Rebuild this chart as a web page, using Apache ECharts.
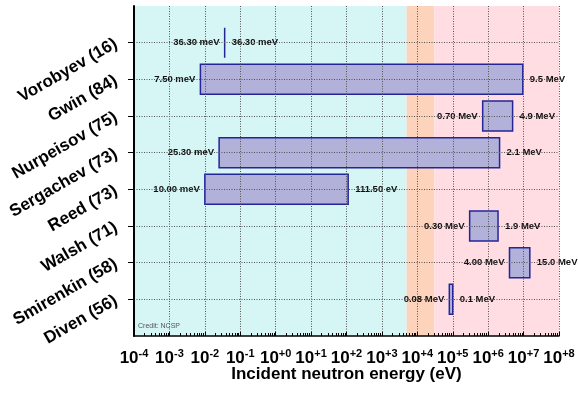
<!DOCTYPE html>
<html><head><meta charset="utf-8">
<script src="https://cdn.jsdelivr.net/npm/echarts@6/dist/echarts.min.js"></script>
<style>html,body{margin:0;padding:0;background:#fff}#c{width:578px;height:394px}</style>
</head><body><div id="c"></div>
<script>
// ---- data ----
const experiments = ['Vorobyev (16)', 'Gwin (84)', 'Nurpeisov (75)', 'Sergachev (73)', 'Reed (73)', 'Walsh (71)', 'Smirenkin (58)', 'Diven (56)'];
const energyLow  = [0.0363, 0.0075, 0.70e6, 0.0253, 0.010, 0.30e6, 4.00e6, 0.08e6];
const energyHigh = [0.0363, 9.5e6, 4.9e6, 2.1e6, 111.5, 1.9e6, 15.0e6, 0.1e6];
const lowLabels  = ['36.30 meV', '7.50 meV', '0.70 MeV', '25.30 meV', '10.00 meV', '0.30 MeV', '4.00 MeV', '0.08 MeV'];
const highLabels = ['36.30 meV', '9.5 MeV', '4.9 MeV', '2.1 MeV', '111.50 eV', '1.9 MeV', '15.0 MeV', '0.1 MeV'];
const regionStart = [1e-4, 5e3, 3e4];
const regionEnd   = [5e3, 3e4, 1e8];
const regionColors = ['#d6f5f5', '#fdd3bb', '#ffdde3'];
const xMin = 1e-4, xMax = 1e8;

const FONT = '"Liberation Sans", Arial, Helvetica, sans-serif';
const yCats = [''].concat(experiments, ['']);

const barData = experiments.map((n, i) => [energyLow[i], energyHigh[i], i + 1]);
const bgData = regionStart.map((s, i) => [s, regionEnd[i], 0]);

const chart = echarts.init(document.getElementById('c'), null, {renderer: 'canvas'});
chart.setOption({
  animation: false,
  backgroundColor: '#fff',
  grid: {left: 134, right: 19, top: 6, bottom: 58},
  xAxis: {
    type: 'log', logBase: 10, min: xMin, max: xMax, interval: 1,
    z: 5,
    name: 'Incident neutron energy (eV)', nameLocation: 'middle', nameGap: 30, nameMoveOverlap: false,
    nameTextStyle: {fontFamily: FONT, fontWeight: 'bold', fontSize: 17, color: '#000'},
    axisLine: {show: true, onZero: false, lineStyle: {color: '#000', width: 1.5}},
    axisTick: {show: true, inside: true, length: 4, lineStyle: {color: '#000'}},
    minorTick: {show: true, splitNumber: 9, length: 3, lineStyle: {color: '#000'}},
    splitLine: {show: true, lineStyle: {color: '#555', type: [1, 1.5], width: 1}},
    axisLabel: {
      margin: 12, interval: 0,
      formatter: function (v) {
        const e = Math.round(Math.log10(v));
        return '{b|10}{s|' + (e >= 0 ? '+' + e : '' + e) + '}';
      },
      rich: {
        b: {fontFamily: FONT, fontWeight: 'bold', fontSize: 17, color: '#000', lineHeight: 20},
        s: {fontFamily: FONT, fontWeight: 'bold', fontSize: 11, color: '#000', verticalAlign: 'top', lineHeight: 13}
      }
    }
  },
  yAxis: {
    type: 'category', data: yCats, boundaryGap: false, inverse: true,
    z: 5,
    axisLine: {show: true, lineStyle: {color: '#000', width: 2}},
    axisTick: {show: true, length: 6, interval: function (i, v) { return v !== ''; }, lineStyle: {color: '#000'}},
    splitLine: {show: true, interval: function (i, v) { return v !== ''; }, lineStyle: {color: '#555', type: [1, 1.5], width: 1}},
    axisLabel: {
      interval: 0, rotate: 30, margin: 18, padding: [13, 0, 0, 0],
      fontFamily: FONT, fontWeight: 'bold', fontSize: 17, color: '#000'
    }
  },
  graphic: [{
    type: 'text', left: 138, top: 323, z: 10,
    style: {text: 'Credit: NCSP', fontFamily: FONT, fontSize: 7, fill: '#555'}
  }],
  series: [
    {
      type: 'custom', z: -2, silent: true,
      data: bgData, encode: {x: [0, 1], y: 2},
      renderItem: function (params, api) {
        const cs = params.coordSys;
        const a = api.coord([api.value(0), 1]);
        const b = api.coord([api.value(1), 1]);
        return {type: 'rect', shape: {x: a[0], y: cs.y, width: b[0] - a[0], height: cs.height},
          style: {fill: regionColors[params.dataIndex]}};
      }
    },
    {
      type: 'custom', z: -1,
      data: barData, encode: {x: [0, 1], y: 2},
      renderItem: function (params, api) {
        const i = params.dataIndex;
        const yi = api.value(2);
        const a = api.coord([api.value(0), yi]);
        const b = api.coord([api.value(1), yi]);
        const h = 30;
        const txt = {fontFamily: FONT, fontWeight: 'bold', fontSize: 9.5, fill: '#111', verticalAlign: 'middle'};
        return {type: 'group', children: [
          {type: 'rect', shape: {x: a[0], y: a[1] - h / 2, width: b[0] - a[0], height: h},
            style: {fill: '#b1b1da', stroke: '#25259a', lineWidth: 1.5}},
          {type: 'text', x: a[0] - 5, y: a[1], style: Object.assign({text: lowLabels[i], align: 'right'}, txt)},
          {type: 'text', x: b[0] + 7, y: a[1], style: Object.assign({text: highLabels[i], align: 'left'}, txt)}
        ]};
      }
    }
  ]
});
</script>
</body></html>
